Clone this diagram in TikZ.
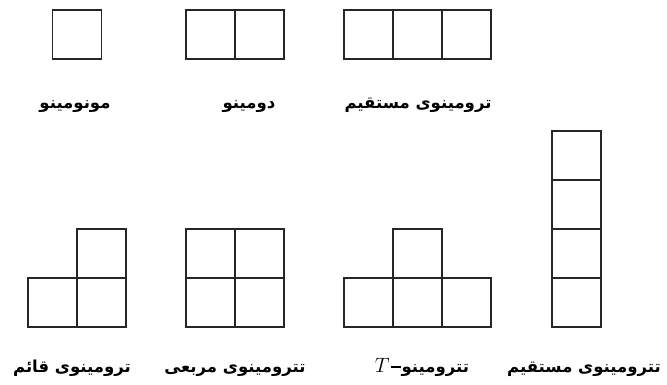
\documentclass[tikz,border=0pt]{standalone}
\usepackage{fontspec}
\newfontfamily\arabicfont[Script=Arabic]{DejaVu Sans}
\TeXXeTstate=1
\tikzset{
  cell/.style={draw=black!85, line width=1.4pt},
  lbl/.style={font=\arabicfont\bfseries\fontsize{16.5}{20}\selectfont, inner sep=0pt, anchor=base}
}
\begin{document}
\begin{tikzpicture}[x=1pt,y=-1pt]
\useasboundingbox (0,0) rectangle (667,385);
% top row
\foreach \x/\y in {52.5/10, 186/10, 235/10, 344/10, 393/10, 442/10}
  \draw[cell] (\x,\y) rectangle ++(49,49);
% L-tromino
\foreach \x/\y in {28/278, 77/278, 77/229}
  \draw[cell] (\x,\y) rectangle ++(49,49);
% square tetromino
\foreach \x/\y in {186/278, 235/278, 186/229, 235/229}
  \draw[cell] (\x,\y) rectangle ++(49,49);
% T-tetromino
\foreach \x/\y in {344/278, 393/278, 442/278, 393/229}
  \draw[cell] (\x,\y) rectangle ++(49,49);
% straight tetromino
\foreach \x/\y in {552/278, 552/229, 552/180, 552/131}
  \draw[cell] (\x,\y) rectangle ++(49,49);
% labels
\node[lbl] (l1) at (75,109) {\beginR مونومینو\endR};
\node[lbl] (l2) at (249,109) {\beginR دومینو\endR};
\node[lbl] (l3) at (418,109) {\beginR ترومینوی مستقیم\endR};
\node[lbl] (l4) at (72,372) {\beginR ترومینوی قائم\endR};
\node[lbl] (l5) at (235,372) {\beginR تترومینوی مربعی\endR};
\node[lbl] (l6) at (422,372) {{\normalfont\fontsize{20}{20}\selectfont$T$\kern1.5pt\rule[4.5pt]{10pt}{1.3pt}\kern0.5pt}\beginR تترومینو\endR};
\node[lbl] (l7) at (584,372) {\beginR تترومینوی مستقیم\endR};
\end{tikzpicture}
\end{document}
